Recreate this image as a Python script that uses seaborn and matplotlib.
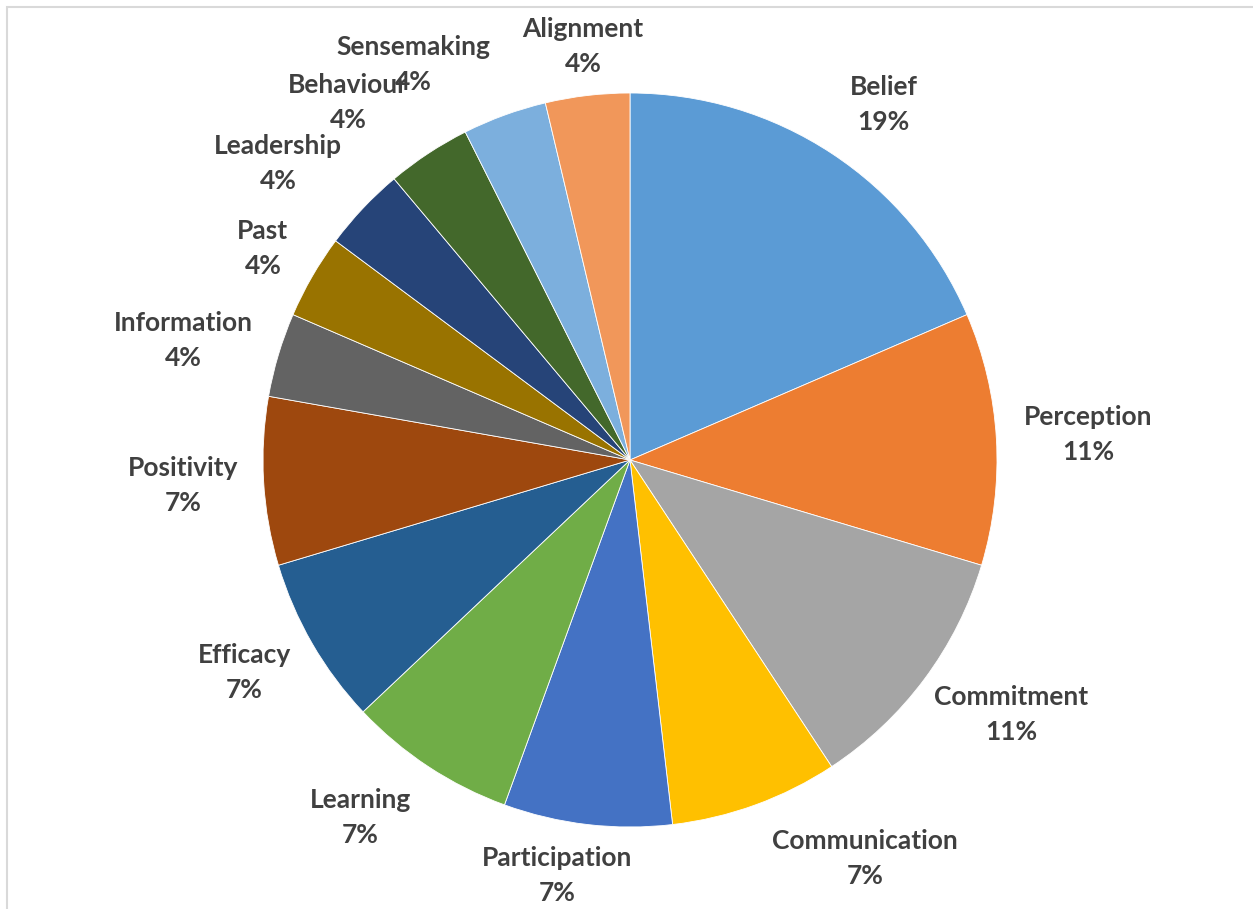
import numpy as np
import seaborn as sns
import matplotlib.pyplot as plt
from matplotlib.patches import Rectangle

# slice counts (percent labels are rounded shares)
categories = ["Belief", "Perception", "Commitment", "Communication", "Participation",
              "Learning", "Efficacy", "Positivity", "Information", "Past",
              "Leadership", "Behaviour", "Sensemaking", "Alignment"]
counts = [5, 3, 3, 2, 2, 2, 2, 2, 1, 1, 1, 1, 1, 1]
slice_colors = ["#5B9BD5", "#ED7D31", "#A5A5A5", "#FFC000", "#4472C4", "#70AD47",
                "#255E91", "#9E480E", "#636363", "#997300", "#264478", "#43682B",
                "#7CAFDD", "#F1975A"]

# label layout (Excel "best fit"): clockwise shift from slice middle (deg), distance in radii
label_shift = [2.2, 0.2, -2.9, -10.5, 3.3, 3.7, 1.2, 0.1, -1.7, 0.0, -3.2, -4.9, -8.7, 0.2]
label_dist = [1.19, 1.25, 1.25, 1.26, 1.15, 1.22, 1.20, 1.22, 1.26, 1.155, 1.255, 1.24, 1.23, 1.135]

sns.set_theme(style="white")
plt.rcParams['font.family'] = ['Lato', 'DejaVu Sans']

fig = plt.figure(figsize=(12.53, 9.09), dpi=100)
W, H = 1253, 909
R = 367                     # pie radius in px
cx, cy = 630, H - 460       # pie centre in px
half = 1.5 * R
ax = fig.add_axes([(cx - half) / W, (cy - half) / H, 2 * half / W, 2 * half / H])

palette = sns.color_palette(slice_colors)
wedges, _ = ax.pie(counts, colors=palette, startangle=90, counterclock=False,
                   radius=1, wedgeprops=dict(edgecolor="white", linewidth=0.6))
ax.set_xlim(-1.5, 1.5)
ax.set_ylim(-1.5, 1.5)
ax.set_aspect("equal")
ax.axis("off")

total = sum(counts)
for w, name, c, sh, d in zip(wedges, categories, counts, label_shift, label_dist):
    mid = np.deg2rad((w.theta1 + w.theta2) / 2 - sh)
    ax.text(d * np.cos(mid), d * np.sin(mid), f"{name}\n{round(100 * c / total)}%",
            ha="center", va="center", fontsize=19, fontweight="bold",
            color="#404040", linespacing=1.55)

# chart-area border (cropped at the right and bottom)
fig.patches.append(Rectangle((7 / W, -0.05), 1.1, 1 - 7 / H + 0.05,
                             transform=fig.transFigure, fill=False,
                             edgecolor="#D9D9D9", linewidth=1.5))

plt.savefig("out.png", dpi=100)
